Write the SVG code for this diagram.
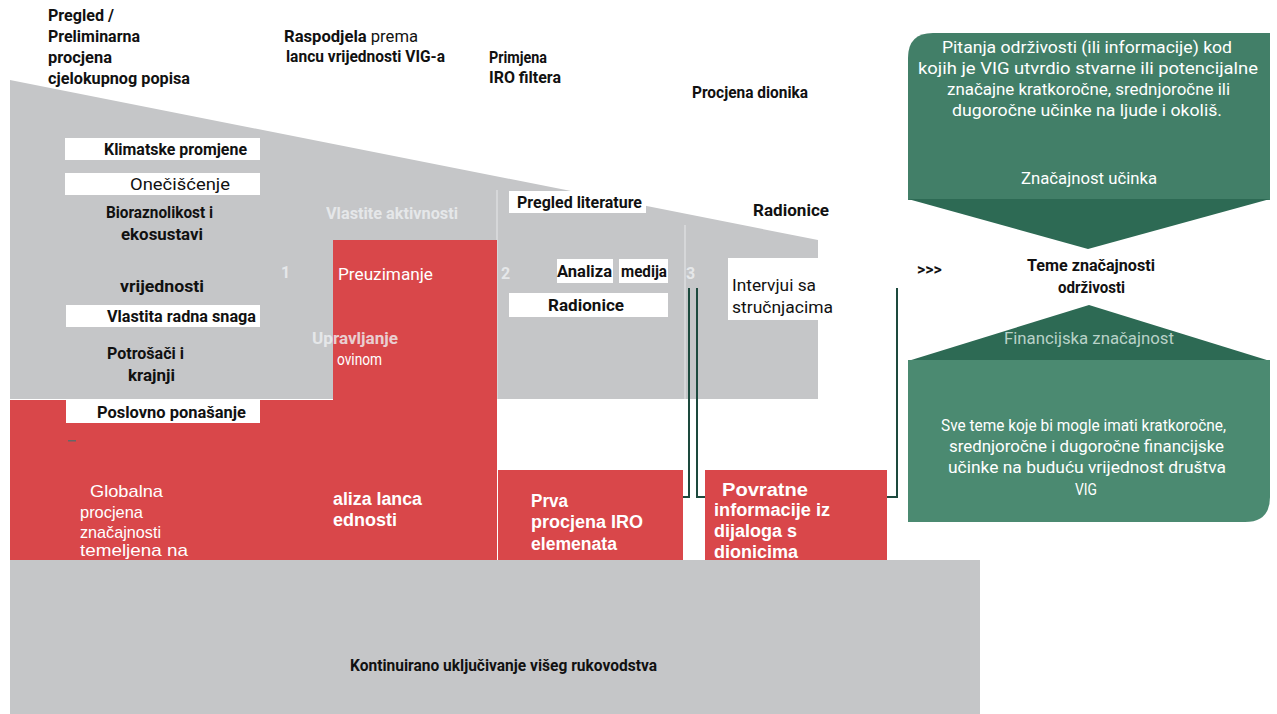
<svg xmlns="http://www.w3.org/2000/svg" width="1277" height="714" viewBox="0 0 1277 714">
<style>
text{font-family:Roboto,"Liberation Sans",sans-serif;}
.b{font-weight:700;fill:#111;font-size:16px;}
.r{fill:#111;font-size:17px;}
.w{fill:#fff;font-size:17px;font-family:"Liberation Sans",Arial,sans-serif;}
.wb{fill:#fff;font-size:18px;font-weight:700;font-family:"Liberation Sans",Arial,sans-serif;}
.wr{fill:#fff;font-size:17px;}
.faint{fill:#eef0f2;font-size:16px;font-weight:700;opacity:0.8;}
.gw{fill:#fff;font-size:16px;}
.box{fill:#fff;}
.red{fill:#d9474a;}
.gray{fill:#c5c6c8;}
.con{fill:none;stroke:#1d4a3e;stroke-width:2;}
</style>
<rect width="1277" height="714" fill="#fff"/>
<g id="funnel">
<polygon class="gray" points="10,80 818,240 818,399 10,399"/>
<rect x="496" y="190" width="2" height="209" fill="#d6d7d9"/>
<rect x="684" y="225" width="2" height="174" fill="#d6d7d9"/>
</g>
<g id="red-block">
<path class="red" d="M333,240 H497 V560 H10 V400 H333 Z"/>
</g>
<g id="bottom-bar">
<rect class="gray" x="10" y="560" width="970" height="154"/>
<text class="b" x="350" y="671" font-size="15" textLength="307" lengthAdjust="spacingAndGlyphs">Kontinuirano uključivanje višeg rukovodstva</text>
</g>
<g id="head-texts">
<text class="b" x="48" y="21" textLength="66" lengthAdjust="spacingAndGlyphs">Pregled /</text>
<text class="b" x="48" y="42" textLength="92" lengthAdjust="spacingAndGlyphs">Preliminarna</text>
<text class="b" x="48" y="63" textLength="64" lengthAdjust="spacingAndGlyphs">procjena</text>
<text class="b" x="48" y="84" textLength="142" lengthAdjust="spacingAndGlyphs">cjelokupnog popisa</text>
<text class="b" x="284" y="42" textLength="134" lengthAdjust="spacingAndGlyphs">Raspodjela <tspan font-weight="400">prema</tspan></text>
<text class="b" x="286" y="62" textLength="159" lengthAdjust="spacingAndGlyphs">lancu vrijednosti VIG-a</text>
<text class="b" x="489" y="63" textLength="58" lengthAdjust="spacingAndGlyphs">Primjena</text>
<text class="b" x="489" y="83" textLength="72" lengthAdjust="spacingAndGlyphs">IRO filtera</text>
<text class="b" x="692" y="98" textLength="116" lengthAdjust="spacingAndGlyphs">Procjena dionika</text>
</g>
<g id="topics">
<rect class="box" x="65" y="138" width="195" height="22"/>
<text class="b" x="104" y="155" textLength="143" lengthAdjust="spacingAndGlyphs">Klimatske promjene</text>
<rect class="box" x="65" y="173" width="195" height="22"/>
<text class="r" x="130" y="190" textLength="100" lengthAdjust="spacingAndGlyphs">Onečišćenje</text>
<text class="b" x="106" y="218" textLength="107" lengthAdjust="spacingAndGlyphs">Bioraznolikost i</text>
<text class="b" x="121" y="240" textLength="82" lengthAdjust="spacingAndGlyphs">ekosustavi</text>
<text class="b" x="120" y="292" textLength="84" lengthAdjust="spacingAndGlyphs">vrijednosti</text>
<rect class="box" x="66" y="305" width="194" height="22"/>
<text class="b" x="107" y="322" textLength="149" lengthAdjust="spacingAndGlyphs">Vlastita radna snaga</text>
<text class="b" x="107" y="359" textLength="77" lengthAdjust="spacingAndGlyphs">Potrošači i</text>
<text class="b" x="128" y="381" textLength="47" lengthAdjust="spacingAndGlyphs">krajnji</text>
<rect class="box" x="66" y="400" width="194" height="23"/>
<text class="b" x="97" y="418" textLength="149" lengthAdjust="spacingAndGlyphs">Poslovno ponašanje</text>
<rect x="68" y="440" width="8" height="1.5" fill="#666"/>
</g>
<g id="stage1">
<text class="faint" x="326" y="219" textLength="132" lengthAdjust="spacingAndGlyphs">Vlastite aktivnosti</text>
<text class="faint" x="281" y="278" font-weight="400">1</text>
<text class="wr" x="338" y="280" textLength="95" lengthAdjust="spacingAndGlyphs">Preuzimanje</text>
<text class="faint" x="312" y="344" textLength="86" lengthAdjust="spacingAndGlyphs">Upravljanje</text>
<text class="wr" x="337" y="365" textLength="45" lengthAdjust="spacingAndGlyphs">ovinom</text>
<text class="w" x="90" y="497" textLength="73" lengthAdjust="spacingAndGlyphs">Globalna</text>
<text class="w" x="80" y="518" textLength="63" lengthAdjust="spacingAndGlyphs">procjena</text>
<text class="w" x="80" y="538" textLength="81" lengthAdjust="spacingAndGlyphs">značajnosti</text>
<text class="w" x="80" y="556" textLength="108" lengthAdjust="spacingAndGlyphs">temeljena na</text>
<text class="wb" x="333" y="505" textLength="89" lengthAdjust="spacingAndGlyphs">aliza lanca</text>
<text class="wb" x="333" y="526" textLength="64" lengthAdjust="spacingAndGlyphs">ednosti</text>
</g>
<g id="stage2">
<rect class="box" x="509" y="191" width="137" height="22"/>
<text class="b" x="517" y="208" textLength="125" lengthAdjust="spacingAndGlyphs">Pregled literature</text>
<text class="faint" x="501" y="279" font-weight="400">2</text>
<rect class="box" x="557" y="259" width="56" height="24"/>
<rect class="box" x="619" y="259" width="49" height="24"/>
<text class="b" x="557" y="277" textLength="55" lengthAdjust="spacingAndGlyphs">Analiza</text>
<text class="b" x="621" y="277" textLength="46" lengthAdjust="spacingAndGlyphs">medija</text>
<rect class="box" x="509" y="293" width="159" height="24"/>
<text class="b" x="548" y="311" textLength="76" lengthAdjust="spacingAndGlyphs">Radionice</text>
<rect class="red" x="498" y="470" width="185" height="90"/>
<text class="wb" x="531" y="507" textLength="37" lengthAdjust="spacingAndGlyphs">Prva</text>
<text class="wb" x="531" y="528" textLength="112" lengthAdjust="spacingAndGlyphs">procjena IRO</text>
<text class="wb" x="531" y="550" textLength="86" lengthAdjust="spacingAndGlyphs">elemenata</text>
</g>
<g id="stage3">
<text class="faint" x="686" y="279" font-weight="400">3</text>
<text class="b" x="753" y="216" textLength="76" lengthAdjust="spacingAndGlyphs">Radionice</text>
<rect class="box" x="728" y="258" width="91" height="62"/>
<text class="r" x="732" y="291" textLength="84" lengthAdjust="spacingAndGlyphs">Intervjui sa</text>
<text class="r" x="732" y="313" textLength="101" lengthAdjust="spacingAndGlyphs">stručnjacima</text>
<rect class="red" x="705" y="470" width="182" height="90"/>
<text class="wb" x="722" y="496" textLength="86" lengthAdjust="spacingAndGlyphs">Povratne</text>
<text class="wb" x="714" y="516" textLength="116" lengthAdjust="spacingAndGlyphs">informacije iz</text>
<text class="wb" x="714" y="537" textLength="83" lengthAdjust="spacingAndGlyphs">dijaloga s</text>
<text class="wb" x="714" y="558" textLength="84" lengthAdjust="spacingAndGlyphs">dionicima</text>
</g>
<g id="connectors">
<path class="con" d="M683,497 H689 V288"/>
<path class="con" d="M705,497 H697 V288"/>
<path class="con" d="M887,497 H897 V288"/>
<text class="b" x="917" y="275" font-size="12">&gt;&gt;&gt;</text>
</g>
<g id="impact">
<path d="M933,33 H1270 V200 H908 V58 Q908,33 933,33 Z" fill="#427f68"/>
<polygon points="908,199 1270,199 1088,249" fill="#2d6a54"/>
<text class="gw" x="942" y="53" textLength="290" lengthAdjust="spacingAndGlyphs">Pitanja održivosti (ili informacije) kod</text>
<text class="gw" x="918" y="74" textLength="340" lengthAdjust="spacingAndGlyphs">kojih je VIG utvrdio stvarne ili potencijalne</text>
<text class="gw" x="947" y="95" textLength="283" lengthAdjust="spacingAndGlyphs">značajne kratkoročne, srednjoročne ili</text>
<text class="gw" x="952" y="116" textLength="270" lengthAdjust="spacingAndGlyphs">dugoročne učinke na ljude i okoliš.</text>
<text class="gw" x="1021" y="184" textLength="136" lengthAdjust="spacingAndGlyphs">Značajnost učinka</text>
</g>
<g id="topics-result">
<text class="b" x="1027" y="271" textLength="128" lengthAdjust="spacingAndGlyphs">Teme značajnosti</text>
<text class="b" x="1058" y="293" textLength="67" lengthAdjust="spacingAndGlyphs">održivosti</text>
</g>
<g id="financial">
<polygon points="908,361 1270,361 1089,305" fill="#2d6a54"/>
<path d="M908,360 H1270 V497 Q1270,522 1245,522 H908 Z" fill="#4b8a71"/>
<text x="1004" y="344" font-size="16" fill="#b9d2c8" textLength="170" lengthAdjust="spacingAndGlyphs">Financijska značajnost</text>
<text class="gw" x="941" y="431" textLength="285" lengthAdjust="spacingAndGlyphs">Sve teme koje bi mogle imati kratkoročne,</text>
<text class="gw" x="949" y="452" textLength="275" lengthAdjust="spacingAndGlyphs">srednjoročne i dugoročne financijske</text>
<text class="gw" x="948" y="473" textLength="278" lengthAdjust="spacingAndGlyphs">učinke na buduću vrijednost društva</text>
<text class="gw" x="1075" y="495" textLength="22" lengthAdjust="spacingAndGlyphs">VIG</text>
</g>
</svg>
